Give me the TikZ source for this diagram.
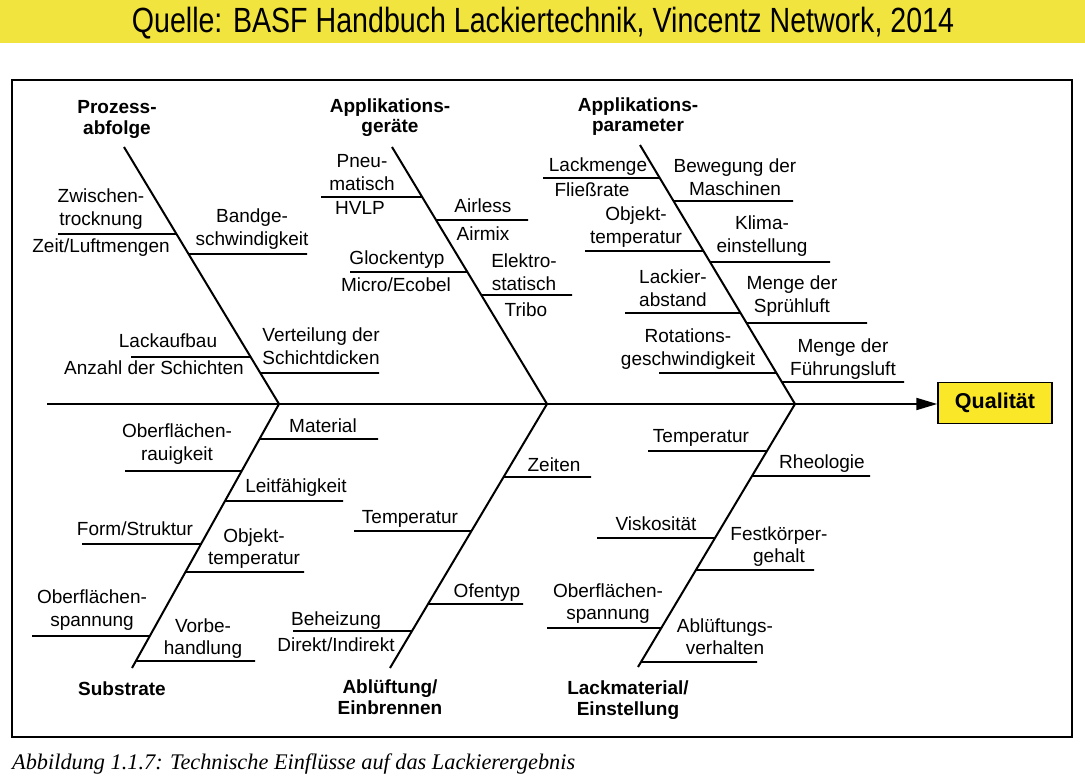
\documentclass[tikz,border=0pt]{standalone}
\usepackage{fontspec}
\setmainfont{Liberation Sans}
\newfontfamily\capfont{Liberation Serif}
\usetikzlibrary{arrows.meta}
\definecolor{banneryellow}{RGB}{242,228,62}
\definecolor{boxyellow}{RGB}{250,232,40}
\newcommand\fbsub[5]{%
  \coordinate (#1j) at (intersection of #2--#3 and 0,#4--1000,#4);
  \coordinate (#1e) at (#5,#4);
  \draw[subline] (#1j) -- (#1e);}
\begin{document}
\begin{tikzpicture}[x=1pt,y=-1pt,
  lbl/.style={font=\fontsize{19}{22.5}\selectfont, align=center, anchor=base, inner sep=0pt},
  ttl/.style={font=\bfseries\fontsize{19}{20.5}\selectfont, align=center, anchor=base, inner sep=0pt},
  bone/.style={line width=2pt},
  subline/.style={line width=1.8pt},
  frame/.style={line width=2pt},
  qbox/.style={draw, line width=1.5pt, fill=boxyellow, minimum width=114pt, minimum height=41pt, inner sep=0pt, font=\bfseries\fontsize{21.5}{24}\selectfont},
]
\useasboundingbox (0,0) rectangle (1085,783);
\fill[white] (0,0) rectangle (1085,783);
% banner
\fill[banneryellow] (0,0) rectangle (1085,43);
\node[anchor=base, inner sep=0pt] (src) at (543,33) {\scalebox{0.817}[1]{\fontsize{35}{40}\selectfont Quelle: BASF Handbuch Lackiertechnik, Vincentz Network, 2014}};
% frame
\draw[frame] (12,80) rectangle (1072,737);
% caption
\node[anchor=base west, inner sep=0pt] (cap) at (12,769) {\capfont\itshape\fontsize{22.3}{24}\selectfont Abbildung 1.1.7: Technische Einflüsse auf das Lackierergebnis};
% result box and spine
\node[qbox] (q) at (995,403) {Qualität};
\coordinate (spL) at (47,404);
\draw[bone, -{Triangle[length=21pt,width=12pt]}] (spL) -- (spL -| q.west);
% bones
\coordinate (j1) at (279,404);
\coordinate (j2) at (547,404);
\coordinate (j3) at (795,404);
\coordinate (b1t) at (124,147);
\coordinate (b2t) at (392,147);
\coordinate (b3t) at (640,145);
\coordinate (b4b) at (132,668);
\coordinate (b5b) at (390,668);
\coordinate (b6b) at (638,667);
\draw[bone] (b1t) -- (j1);
\draw[bone] (b2t) -- (j2);
\draw[bone] (b3t) -- (j3);
\draw[bone] (j1) -- (b4b);
\draw[bone] (j2) -- (b5b);
\draw[bone] (j3) -- (b6b);
% sub-branches, bone 1
\fbsub{a1}{b1t}{j1}{234}{58}
\fbsub{a2}{b1t}{j1}{254}{307}
\fbsub{a3}{b1t}{j1}{357}{131}
\fbsub{a4}{b1t}{j1}{373}{379}
% bone 2
\fbsub{c1}{b2t}{j2}{197}{321}
\fbsub{c2}{b2t}{j2}{220}{528}
\fbsub{c3}{b2t}{j2}{272}{350}
\fbsub{c4}{b2t}{j2}{295}{572}
% bone 3
\fbsub{d1}{b3t}{j3}{178}{543}
\fbsub{d2}{b3t}{j3}{201}{793}
\fbsub{d3}{b3t}{j3}{251}{585}
\fbsub{d4}{b3t}{j3}{262}{830}
\fbsub{d5}{b3t}{j3}{313}{625}
\fbsub{d6}{b3t}{j3}{323}{867}
\fbsub{d7}{b3t}{j3}{373}{659}
\fbsub{d8}{b3t}{j3}{382}{904}
% bone 4
\fbsub{e1}{j1}{b4b}{439}{378}
\fbsub{e2}{j1}{b4b}{471}{125}
\fbsub{e3}{j1}{b4b}{501}{343}
\fbsub{e4}{j1}{b4b}{544}{82}
\fbsub{e5}{j1}{b4b}{572}{304}
\fbsub{e6}{j1}{b4b}{636}{32}
\fbsub{e7}{j1}{b4b}{661}{255}
% bone 5
\fbsub{f1}{j2}{b5b}{477}{591}
\fbsub{f2}{j2}{b5b}{531}{354}
\fbsub{f3}{j2}{b5b}{604}{523}
\fbsub{f4}{j2}{b5b}{631}{293}
% bone 6
\fbsub{g1}{j3}{b6b}{451}{648}
\fbsub{g2}{j3}{b6b}{476}{870}
\fbsub{g3}{j3}{b6b}{538}{597}
\fbsub{g4}{j3}{b6b}{570}{814}
\fbsub{g5}{j3}{b6b}{628}{547}
\fbsub{g6}{j3}{b6b}{662}{757}
% titles (anchor = baseline of last line)
\node[ttl] (t1) at (117,134.5) {Prozess-\\abfolge};
\node[ttl] (t2) at (390,133) {Applikations-\\geräte};
\node[ttl] (t3) at (638,132) {Applikations-\\parameter};
\node[ttl] (t4) at (122,695) {Substrate};
\node[ttl] (t5) at (390,714) {Ablüftung/\\Einbrennen};
\node[ttl] (t6) at (628,715) {Lackmaterial/\\Einstellung};
% labels bone 1
\node[lbl] (la1) at (101,225.5) {Zwischen-\\trocknung};
\node[lbl] (la1b) at (101,253) {Zeit/Luftmengen};
\node[lbl] (la2) at (252,245.5) {Bandge-\\schwindigkeit};
\node[lbl] (la3) at (168,348) {Lackaufbau};
\node[lbl] (la3b) at (154,375) {Anzahl der Schichten};
\node[lbl] (la4) at (321,364.5) {Verteilung der\\Schichtdicken};
% labels bone 2
\node[lbl] (lc1) at (362,190.5) {Pneu-\\matisch};
\node[lbl] (lc1b) at (360,215) {HVLP};
\node[lbl] (lc2) at (483,213) {Airless};
\node[lbl] (lc2b) at (483,241) {Airmix};
\node[lbl] (lc3) at (397,265) {Glockentyp};
\node[lbl] (lc3b) at (396,292) {Micro/Ecobel};
\node[lbl] (lc4) at (524,290.5) {Elektro-\\statisch};
\node[lbl] (lc4b) at (526,317) {Tribo};
% labels bone 3
\node[lbl] (ld1) at (598,172) {Lackmenge};
\node[lbl] (ld1b) at (592,197) {Fließrate};
\node[lbl] (ld2) at (735,195.5) {Bewegung der\\Maschinen};
\node[lbl] (ld3) at (636,243.5) {Objekt-\\temperatur};
\node[lbl] (ld4) at (762,252.5) {Klima-\\einstellung};
\node[lbl] (ld5) at (673,306.5) {Lackier-\\abstand};
\node[lbl] (ld6) at (792,312.5) {Menge der\\Sprühluft};
\node[lbl] (ld7) at (688,365.5) {Rotations-\\geschwindigkeit};
\node[lbl] (ld8) at (843,375.5) {Menge der\\Führungsluft};
% labels bone 4
\node[lbl] (le1) at (323,433) {Material};
\node[lbl] (le2) at (177,460.5) {Oberflächen-\\rauigkeit};
\node[lbl] (le3) at (296,493) {Leitfähigkeit};
\node[lbl] (le4) at (135,536) {Form/Struktur};
\node[lbl] (le5) at (254,564.5) {Objekt-\\temperatur};
\node[lbl] (le6) at (92,626) {Oberflächen-\\spannung};
\node[lbl] (le7) at (203,654.5) {Vorbe-\\handlung};
% labels bone 5
\node[lbl] (lf1) at (554,472) {Zeiten};
\node[lbl] (lf2) at (410,523) {Temperatur};
\node[lbl] (lf3) at (487,597) {Ofentyp};
\node[lbl] (lf4) at (336,625) {Beheizung};
\node[lbl] (lf4b) at (336,651) {Direkt/Indirekt};
% labels bone 6
\node[lbl] (lg1) at (701,443) {Temperatur};
\node[lbl] (lg2) at (822,469) {Rheologie};
\node[lbl] (lg3) at (656,530) {Viskosität};
\node[lbl] (lg4) at (779,562.5) {Festkörper-\\gehalt};
\node[lbl] (lg5) at (608,619.5) {Oberflächen-\\spannung};
\node[lbl] (lg6) at (725,654.5) {Ablüftungs-\\verhalten};
\end{tikzpicture}
\end{document}
